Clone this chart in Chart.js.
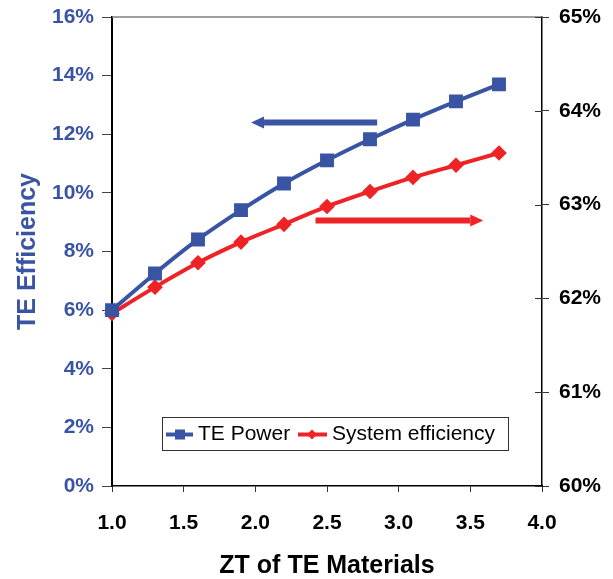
<!DOCTYPE html>
<html>
<head>
<meta charset="utf-8">
<script src="https://cdn.jsdelivr.net/npm/chart.js@4/dist/chart.umd.min.js"></script>
<style>
  html, body { margin: 0; padding: 0; background: #fff; }
  canvas { display: block; }
</style>
</head>
<body>
<canvas id="grafico" width="613" height="579"></canvas>
<script>
// ==========================
// Datos
// ==========================

const zt = [1.0, 1.3, 1.6, 1.9, 2.2, 2.5, 2.8, 3.1, 3.4, 3.7];
const tePower = [6.0, 7.25, 8.41, 9.41, 10.32, 11.11, 11.83, 12.50, 13.12, 13.70];
const systemEff = [61.84, 62.12, 62.38, 62.60, 62.79, 62.98, 63.14, 63.29, 63.42, 63.55];

const nombreSerie1 = 'TE Power';
const nombreSerie2 = 'System efficiency';
const tituloX = 'ZT of TE Materials';
const tituloY = 'TE Efficiency';

// flechas que indican a que eje pertenece cada curva (coordenadas de datos)
const flechaAzulX = [2.85, 1.97];
const flechaAzulY = 12.4;
const flechaRojaX = [2.42, 3.59];
const flechaRojaY = 62.83;

const AZUL = '#3a54a4';
const ROJO = '#ee2326';
const FUENTE = '"Liberation Sans", Arial, sans-serif';

// ==========================
// Plugins
// ==========================

const flechas = {
    id: 'flechas',
    afterDatasetsDraw(chart) {
        const { ctx, scales } = chart;
        const dibujar = (x0, x1, y, escalaY, color) => {
            const px0 = scales.x.getPixelForValue(x0);
            const px1 = scales.x.getPixelForValue(x1);
            const py = scales[escalaY].getPixelForValue(y);
            const dir = Math.sign(px1 - px0);
            const cabeza = 13;
            ctx.save();
            ctx.strokeStyle = color;
            ctx.fillStyle = color;
            ctx.lineWidth = 6;
            ctx.beginPath();
            ctx.moveTo(px0, py);
            ctx.lineTo(px1 - dir * cabeza, py);
            ctx.stroke();
            ctx.beginPath();
            ctx.moveTo(px1, py);
            ctx.lineTo(px1 - dir * cabeza, py - 6);
            ctx.lineTo(px1 - dir * cabeza, py + 6);
            ctx.closePath();
            ctx.fill();
            ctx.restore();
        };
        dibujar(flechaAzulX[0], flechaAzulX[1], flechaAzulY, 'y', AZUL);
        dibujar(flechaRojaX[0], flechaRojaX[1], flechaRojaY, 'y1', ROJO);
    }
};

const marco = {
    id: 'marco',
    afterDraw(chart) {
        const { ctx, chartArea: a, scales } = chart;
        ctx.save();
        // borde superior gris
        ctx.strokeStyle = '#808080';
        ctx.lineWidth = 1.5;
        ctx.beginPath();
        ctx.moveTo(a.left, a.top);
        ctx.lineTo(a.right, a.top);
        ctx.stroke();
        // marcas del eje derecho hacia dentro
        ctx.strokeStyle = '#333';
        ctx.lineWidth = 1;
        scales.y1.ticks.forEach(t => {
            const py = Math.round(scales.y1.getPixelForValue(t.value)) + 0.5;
            ctx.beginPath();
            ctx.moveTo(a.right - 7, py);
            ctx.lineTo(a.right, py);
            ctx.stroke();
        });
        ctx.restore();
    }
};

const leyenda = {
    id: 'leyenda',
    afterDraw(chart) {
        const { ctx } = chart;
        const caja = { x: 162, y: 417, w: 346, h: 33 };
        const cy = caja.y + caja.h / 2 + 1;
        ctx.save();
        ctx.fillStyle = '#fff';
        ctx.fillRect(caja.x, caja.y, caja.w, caja.h);
        ctx.strokeStyle = '#333';
        ctx.lineWidth = 1;
        ctx.strokeRect(caja.x + 0.5, caja.y + 0.5, caja.w, caja.h);

        ctx.font = '21px ' + FUENTE;
        ctx.textBaseline = 'middle';
        ctx.fillStyle = '#000';

        // muestra TE Power
        ctx.strokeStyle = AZUL;
        ctx.lineWidth = 4;
        ctx.beginPath();
        ctx.moveTo(166, cy);
        ctx.lineTo(193, cy);
        ctx.stroke();
        ctx.fillStyle = AZUL;
        ctx.fillRect(175, cy - 5, 10, 10);
        ctx.fillStyle = '#000';
        ctx.fillText(nombreSerie1, 198, cy);

        // muestra System efficiency
        ctx.strokeStyle = ROJO;
        ctx.beginPath();
        ctx.moveTo(298, cy);
        ctx.lineTo(327, cy);
        ctx.stroke();
        ctx.fillStyle = ROJO;
        ctx.beginPath();
        ctx.moveTo(312, cy - 5);
        ctx.lineTo(317, cy);
        ctx.lineTo(312, cy + 5);
        ctx.lineTo(307, cy);
        ctx.closePath();
        ctx.fill();
        ctx.fillStyle = '#000';
        ctx.fillText(nombreSerie2, 332, cy);
        ctx.restore();
    }
};

// ancho fijo de los ejes verticales, sin relleno extra arriba/abajo
const ajustarEjeY = ancho => s => {
    s.width = ancho;
    s.paddingTop = 0;
    s.paddingBottom = 0;
};

// ==========================
// Grafico
// ==========================

new Chart(document.getElementById('grafico'), {
    type: 'line',
    data: {
        datasets: [
            {
                label: nombreSerie1,
                data: zt.map((x, i) => ({ x, y: tePower[i] })),
                yAxisID: 'y',
                borderColor: AZUL,
                backgroundColor: AZUL,
                borderWidth: 4,
                pointStyle: 'rect',
                pointRadius: 7,
                pointHoverRadius: 7,
                tension: 0.25,
                clip: false
            },
            {
                label: nombreSerie2,
                data: zt.map((x, i) => ({ x, y: systemEff[i] })),
                yAxisID: 'y1',
                borderColor: ROJO,
                backgroundColor: ROJO,
                borderWidth: 4,
                pointStyle: 'rectRot',
                pointRadius: 5,
                pointHoverRadius: 5,
                tension: 0.25,
                clip: false
            }
        ]
    },
    options: {
        responsive: false,
        animation: false,
        layout: { padding: { top: 17, left: 0, right: 0, bottom: 0 } },
        plugins: {
            legend: { display: false },
            tooltip: { enabled: false }
        },
        scales: {
            x: {
                type: 'linear',
                min: 1,
                max: 4,
                afterFit: s => { s.height = 93; },
                ticks: {
                    stepSize: 0.5,
                    color: '#000',
                    padding: 19,
                    font: { family: FUENTE, size: 21, weight: 'bold' },
                    callback: v => v.toFixed(1)
                },
                grid: { drawOnChartArea: false, tickLength: 6, color: '#333' },
                border: { color: '#000', width: 1.5 },
                title: {
                    display: true,
                    text: tituloX,
                    color: '#000',
                    padding: { top: 0, bottom: -2 },
                    font: { family: FUENTE, size: 25, weight: 'bold' }
                }
            },
            y: {
                position: 'left',
                min: 0,
                max: 16,
                afterFit: ajustarEjeY(112),
                ticks: {
                    stepSize: 2,
                    color: AZUL,
                    padding: 8,
                    font: { family: FUENTE, size: 21, weight: 'bold' },
                    callback: v => v + '%'
                },
                grid: { drawOnChartArea: false, tickLength: 10, color: '#444' },
                border: { color: '#000', width: 2 },
                title: {
                    display: true,
                    text: tituloY,
                    color: AZUL,
                    padding: { top: 13, bottom: 0 },
                    font: { family: FUENTE, size: 25, weight: 'bold' }
                }
            },
            y1: {
                position: 'right',
                min: 60,
                max: 65,
                afterFit: ajustarEjeY(71),
                ticks: {
                    stepSize: 1,
                    color: '#000',
                    padding: 10,
                    font: { family: FUENTE, size: 21, weight: 'bold' },
                    callback: v => v + '%'
                },
                grid: { drawOnChartArea: false, tickLength: 7, color: '#333' },
                border: { color: '#000', width: 1.5 }
            }
        }
    },
    plugins: [flechas, marco, leyenda]
});
</script>
</body>
</html>
